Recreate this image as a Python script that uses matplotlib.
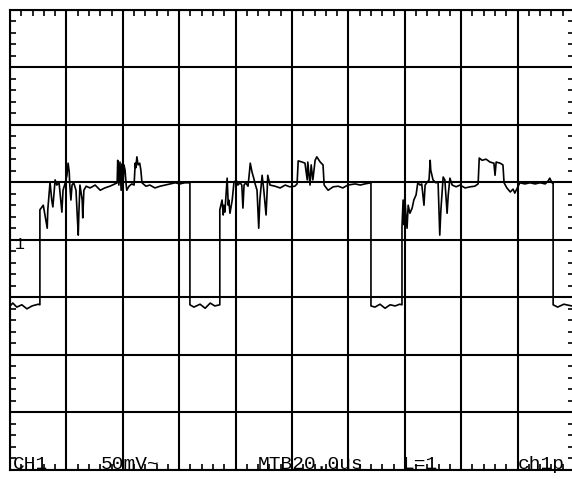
import matplotlib.pyplot as plt
import numpy as np

# scope trace in divisions (x: 20us/div, y: 50mV/div)
time_div = [
    0.00, 0.05, 0.12, 0.21, 0.30, 0.39, 0.50, 0.53,
    0.53, 0.59, 0.62, 0.66, 0.67, 0.71, 0.74, 0.76, 0.80, 0.83, 0.87, 0.90,
    0.92, 0.94, 0.98, 1.01, 1.03, 1.05, 1.06, 1.08, 1.10, 1.13, 1.17, 1.21,
    1.22, 1.24, 1.28, 1.29, 1.31, 1.35, 1.42, 1.51, 1.60, 1.68, 1.77, 1.86,
    1.90, 1.91, 1.93, 1.95, 1.97, 1.99, 2.00, 2.02, 2.04, 2.06, 2.07, 2.11,
    2.16, 2.20, 2.22, 2.23, 2.25, 2.27, 2.30, 2.32, 2.34, 2.41, 2.48, 2.57,
    2.66, 2.75, 2.84, 2.93, 3.01, 3.10, 3.19,
    3.19, 3.26, 3.37, 3.46, 3.55, 3.63, 3.72,
    3.72, 3.76, 3.78, 3.79, 3.81, 3.83, 3.85, 3.87, 3.88, 3.90, 3.94, 3.97,
    4.01, 4.04, 4.08, 4.11, 4.13, 4.15, 4.18, 4.22, 4.24, 4.26, 4.29, 4.33,
    4.34, 4.38, 4.41, 4.43, 4.47, 4.50, 4.54, 4.56, 4.57, 4.61, 4.70, 4.79,
    4.88, 4.96, 5.05, 5.09, 5.11, 5.18, 5.23, 5.27, 5.28, 5.32, 5.34, 5.37,
    5.41, 5.44, 5.50, 5.55, 5.57, 5.64, 5.73, 5.82, 5.90, 5.99, 6.12, 6.21,
    6.29, 6.40,
    6.40, 6.47, 6.56, 6.65, 6.74, 6.83, 6.91, 6.95,
    6.95, 6.97, 6.99, 7.00, 7.02, 7.04, 7.06, 7.09, 7.13, 7.16, 7.20, 7.23,
    7.27, 7.30, 7.34, 7.36, 7.39, 7.43, 7.45, 7.46, 7.50, 7.55, 7.59, 7.62,
    7.64, 7.68, 7.71, 7.75, 7.77, 7.80, 7.84, 7.91, 7.98, 8.07, 8.16, 8.24,
    8.30, 8.32, 8.37, 8.44, 8.51, 8.58, 8.60, 8.62, 8.69, 8.74, 8.76, 8.81,
    8.87, 8.92, 8.95, 9.01, 9.04, 9.13, 9.22, 9.31, 9.40, 9.49, 9.54, 9.57,
    9.61, 9.63,
    9.63, 9.71, 9.82, 9.96, 10.00,
]
ch1_div = [
    2.85, 2.90, 2.83, 2.87, 2.80, 2.85, 2.88, 2.87,
    4.52, 4.60, 4.43, 4.20, 4.52, 5.00, 4.69, 4.57, 5.04, 4.95, 4.99, 4.69,
    4.48, 4.86, 4.99, 5.12, 5.33, 5.18, 4.95, 4.69, 4.95, 4.99, 4.86, 4.08,
    4.43, 4.95, 4.69, 4.38, 4.86, 4.93, 4.90, 4.95, 4.86, 4.90, 4.93, 4.97,
    4.99, 5.38, 4.95, 5.35, 4.86, 5.32, 4.83, 5.30, 5.21, 4.95, 4.86, 4.93,
    4.97, 4.95, 5.33, 5.25, 5.44, 5.30, 5.33, 5.21, 4.99, 4.93, 4.95, 4.90,
    4.93, 4.95, 4.97, 4.99, 4.97, 4.99, 4.99,
    2.87, 2.83, 2.88, 2.81, 2.90, 2.85, 2.87,
    4.52, 4.69, 4.43, 4.60, 4.48, 4.78, 5.07, 4.60, 4.69, 4.46, 4.69, 4.99,
    5.04, 4.95, 4.99, 4.95, 4.55, 4.95, 4.99, 4.93, 5.12, 5.33, 5.18, 5.04,
    4.99, 4.86, 4.20, 4.69, 5.12, 4.86, 4.43, 4.86, 5.12, 4.95, 4.93, 4.90,
    4.95, 4.92, 4.93, 4.97, 5.37, 5.35, 5.33, 5.04, 5.35, 4.95, 5.30, 5.04,
    5.38, 5.44, 5.35, 5.30, 4.95, 4.86, 4.92, 4.93, 4.90, 4.95, 4.97, 4.95,
    4.97, 4.99,
    2.85, 2.83, 2.88, 2.81, 2.87, 2.85, 2.88, 2.87,
    4.22, 4.69, 4.26, 4.74, 4.43, 4.20, 4.60, 4.46, 4.55, 4.69, 4.78, 4.99,
    4.95, 4.97, 4.60, 4.95, 4.99, 5.04, 5.38, 5.21, 5.04, 4.99, 5.00, 4.08,
    4.52, 5.09, 5.04, 4.46, 4.78, 5.07, 4.95, 4.92, 4.95, 4.90, 4.92, 4.93,
    4.97, 5.42, 5.38, 5.40, 5.35, 5.33, 5.12, 5.35, 5.33, 5.30, 4.99, 4.90,
    4.83, 4.88, 4.81, 4.93, 4.99, 4.97, 4.99, 4.97, 4.99, 4.97, 5.02, 5.07,
    4.99, 4.99,
    2.87, 2.83, 2.88, 2.85, 2.86,
]

status_text = ["CH1", "50mV~", "MTB20.0us", "L=1", "ch1p"]
status_x = [0.05, 1.60, 4.40, 6.97, 9.01]

fig = plt.figure(figsize=(5.72, 4.79), dpi=100, facecolor='white')
ax = fig.add_axes([10 / 572, 9 / 479, 564 / 572, 460.5 / 479])
ax.set_xlim(0, 10)
ax.set_ylim(0, 8)

ax.set_xticks(range(11))
ax.set_yticks(range(9))
ax.set_xticks(np.arange(0, 10.01, 0.2), minor=True)
ax.set_yticks(np.arange(0, 8.01, 0.2), minor=True)
ax.grid(True, which='major', color='black', linewidth=1.5)
ax.tick_params(which='major', length=0, labelbottom=False, labelleft=False)
ax.tick_params(which='minor', direction='in', length=4, width=1.2,
               top=True, right=True, bottom=True, left=True, color='black')
for sp in ax.spines.values():
    sp.set_linewidth(1.5)
    sp.set_color('black')

ax.plot(time_div, ch1_div, color='black', linewidth=1.2)

# channel 1 ground marker
ax.text(0.18, 3.92, '1', family='Liberation Mono', fontsize=12,
        ha='center', va='center')

for s, x in zip(status_text, status_x):
    ax.text(x, 0.02, s, family='Liberation Mono', fontsize=14,
            va='baseline', ha='left')

fig.savefig('out.png', dpi=100)
